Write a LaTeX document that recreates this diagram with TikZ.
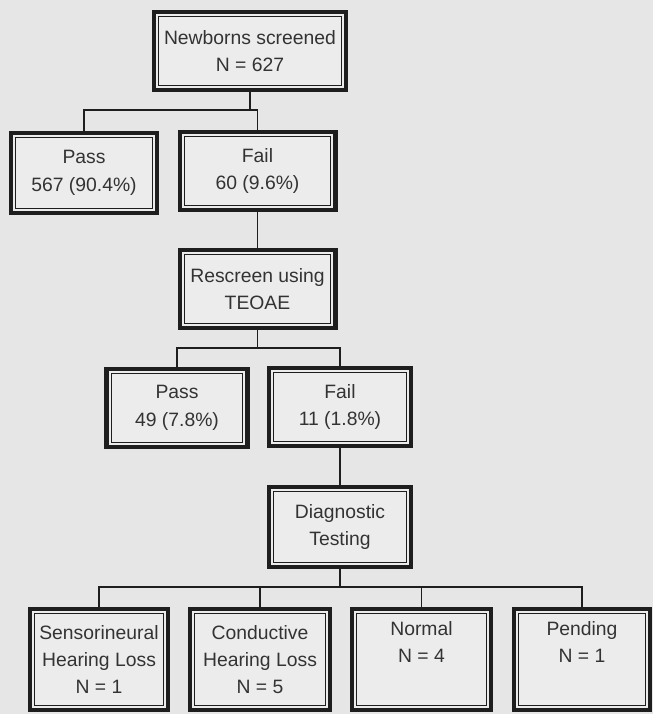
\documentclass[tikz,border=0pt]{standalone}
\usepackage{fontspec}
\setmainfont{Liberation Sans}
\usetikzlibrary{calc}
\definecolor{cInk}{HTML}{1E1E1E}
\definecolor{cText}{HTML}{333333}
\definecolor{cPaper}{HTML}{E6E6E6}
\definecolor{cBox}{HTML}{ECECEC}

\begin{document}
\begin{tikzpicture}[x=0.75pt,y=-0.75pt,
      font=\fontsize{14.5}{20.5}\selectfont,
      box/.style={draw=cInk,line width=3.2pt,fill=cBox,text=cText,align=center,
                  inner sep=0pt,minimum height=58.3pt,
                  path picture={\draw[cInk,line width=0.8pt]
                    ([shift={(3.5pt,3.5pt)}]path picture bounding box.south west) rectangle
                    ([shift={(-3.5pt,-3.5pt)}]path picture bounding box.north east);}},
      leaf/.style={box,minimum height=75.5pt},
      link/.style={cInk,line width=1pt}]
    \fill[cPaper] (0,0) rectangle (653,714);
    \useasboundingbox (0,0) rectangle (653,714);
    % screening
    \node[box,minimum width=143.8pt] (top) at (250,51) {Newborns screened\\N = 627};
    \node[box,minimum width=109.3pt,minimum height=59.8pt] (pass1) at (84,173) {Pass\\567 (90.4\%)};
    \node[box,minimum width=116.8pt] (fail1) at (257.5,171) {Fail\\60 (9.6\%)};
    \node[box,minimum width=116.8pt] (rescr) at (257.5,289) {Rescreen using\\TEOAE};
    \node[box,minimum width=105.6pt,minimum height=59pt] (pass2) at (177,408) {Pass\\49 (7.8\%)};
    \node[box,minimum width=106.3pt] (fail2) at (340,407) {Fail\\11 (1.8\%)};
    \node[box,minimum width=106.3pt,minimum height=59.8pt] (diag) at (340,527) {Diagnostic\\Testing};
    % outcomes
    \node[leaf,minimum width=103.3pt] (sens) at (99,659.5) {Sensorineural\\Hearing Loss\\N = 1};
    \node[leaf,minimum width=104.8pt] (cond) at (260,659.5) {Conductive\\Hearing Loss\\N = 5};
    \node[leaf,minimum width=104pt] (norm) at (421.5,659.5) {Normal\\N = 4\\\strut};
    \node[leaf,minimum width=101.8pt] (pend) at (582,659.5) {Pending\\N = 1\\\strut};
    \coordinate (j1) at (250,110);
    \coordinate (j2) at (257.5,348);
    \coordinate (j3) at (340,587);
    \draw[link] (top) -- (j1);
    \draw[link] (pass1.north) |- (j1) -| (fail1.north);
    \draw[link] (fail1) -- (rescr);
    \draw[link] (rescr) -- (j2);
    \draw[link] (pass2.north) |- (j2) -| (fail2.north);
    \draw[link] (fail2) -- (diag);
    \draw[link] (diag) -- (j3);
    \draw[link] (sens.north) |- (j3) -| (pend.north);
    \draw[link] (cond.north) -- (cond.north |- j3);
    \draw[link] (norm.north) -- (norm.north |- j3);
\end{tikzpicture}
\end{document}
